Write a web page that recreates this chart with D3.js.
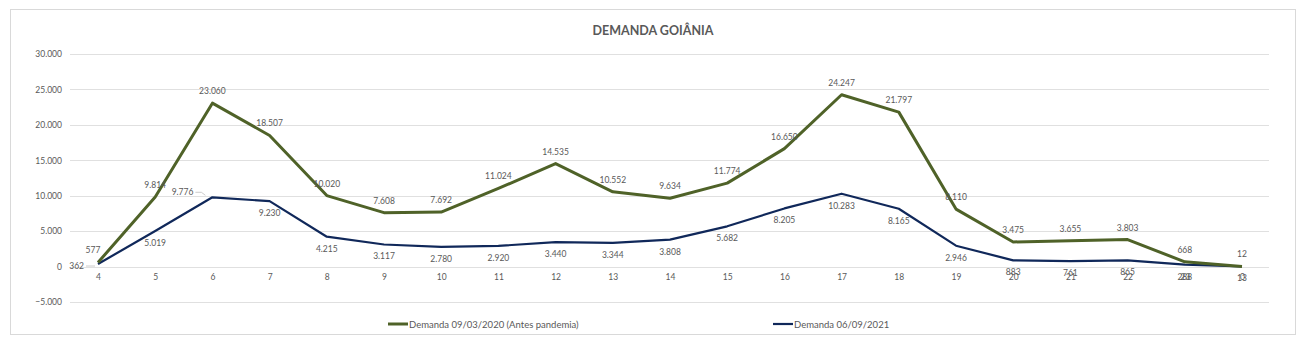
<!DOCTYPE html>
<html><head><meta charset="utf-8">
<script src="https://cdn.jsdelivr.net/npm/d3@7"></script>
<style>
body{margin:0;background:#fff;}
text{font-family:Lato,"Open Sans",sans-serif;fill:#595959;}
</style></head>
<body><svg id="c" width="1309" height="346"></svg>
<script>
const categories = ["4","5","6","7","8","9","10","11","12","13","14","15","16","17","18","19","20","21","22","23","0"];
const demanda2020 = [577,9814,23060,18507,10020,7608,7692,11024,14535,10552,9634,11774,16650,24247,21797,8110,3475,3655,3803,668,12];
const demanda2021 = [362,5019,9776,9230,4215,3117,2780,2920,3440,3344,3808,5682,8205,10283,8165,2946,883,761,865,288,13];
const yTicks = [-5000,0,5000,10000,15000,20000,25000,30000];
const seriesNames = ["Demanda 09/03/2020 (Antes pandemia)","Demanda 06/09/2021"];
const title = "DEMANDA GOIÂNIA";

// label placement (style, not data)
const place2021 = categories.map((c,i)=> i===0 ? "left" : (i===2 ? "leftup" : "below"));

const svg = d3.select("#c");
const W=1309,H=346;
const colors=["#4f6228","#10285a"];
const fmt = v => d3.format(",")(v).replace(/,/g,".");

svg.append("rect").attr("x",10.5).attr("y",9.5).attr("width",1285).attr("height",325)
  .attr("fill","#fff").attr("stroke","#d9d9d9");

svg.append("text").attr("x",653).attr("y",35).attr("text-anchor","middle")
  .style("font-weight","bold").style("font-size","12.5px").text(title);

const x = d3.scalePoint().domain(categories).range([98,1242]);
const y = d3.scaleLinear().domain([-5000,30000]).range([302,54]);

// gridlines
svg.append("g").selectAll("line").data(yTicks).join("line")
  .attr("x1",70).attr("x2",1269).attr("y1",d=>Math.round(y(d))+0.5).attr("y2",d=>Math.round(y(d))+0.5)
  .attr("stroke","#e0e0e0").attr("stroke-width",1);

// y axis labels
const yAxis = d3.axisLeft(y).tickValues(yTicks).tickSize(0).tickPadding(0).tickFormat(fmt);
const gy = svg.append("g").attr("transform","translate(62,0)").call(yAxis);
gy.select(".domain").remove();
gy.selectAll("text").style("font-size","8.5px").attr("fill","#595959").attr("font-family","Lato");

// x axis labels
const xAxis = d3.axisBottom(x).tickSize(0).tickPadding(0);
const gx = svg.append("g").attr("transform",`translate(0,${y(0)+7})`).call(xAxis);
gx.select(".domain").remove();
gx.selectAll("text").style("font-size","8.5px").attr("fill","#595959").attr("font-family","Lato");

const line = d3.line().x((d,i)=>x(categories[i])).y(d=>y(d));
svg.append("path").datum(demanda2021).attr("d",line).attr("fill","none")
  .attr("stroke",colors[1]).attr("stroke-width",2.2).attr("stroke-linejoin","round");
svg.append("path").datum(demanda2020).attr("d",line).attr("fill","none")
  .attr("stroke",colors[0]).attr("stroke-width",3).attr("stroke-linejoin","round");

// data labels
svg.append("g").selectAll("text").data(demanda2020).join("text")
  .attr("x",(d,i)=>x(categories[i]) + (i===0?-5:0))
  .attr("y",d=>y(d)-9).attr("text-anchor","middle")
  .style("font-size","8.5px").text(d=>fmt(d));

const lg = svg.append("g");
demanda2021.forEach((d,i)=>{
  const px=x(categories[i]), py=y(d), p=place2021[i];
  if(p==="below"){
    lg.append("text").attr("x",px).attr("y",py+15).attr("text-anchor","middle").style("font-size","8.5px").text(fmt(d));
  } else if(p==="left"){
    lg.append("text").attr("x",px-14).attr("y",py+5).attr("text-anchor","end").style("font-size","8.5px").text(fmt(d));
    lg.append("line").attr("x1",px-12).attr("x2",px-3).attr("y1",py+2).attr("y2",py+2).attr("stroke","#bfbfbf").attr("stroke-width",0.8);
  } else {
    lg.append("text").attr("x",px-19).attr("y",py-2).attr("text-anchor","end").style("font-size","8.5px").text(fmt(d));
    lg.append("path").attr("d",`M${px-17},${py-5}H${px-11}L${px-7},${py-2}`).attr("fill","none").attr("stroke","#bfbfbf").attr("stroke-width",0.8);
  }
});

// legend
const legX=[388,773];
seriesNames.forEach((n,i)=>{
  svg.append("line").attr("x1",legX[i]).attr("x2",legX[i]+20).attr("y1",324).attr("y2",324)
    .attr("stroke",colors[i]).attr("stroke-width",i===0?3:2.2);
  svg.append("text").attr("x",legX[i]+21).attr("y",327.5).style("font-size","9.5px").text(n);
});
</script></body></html>
